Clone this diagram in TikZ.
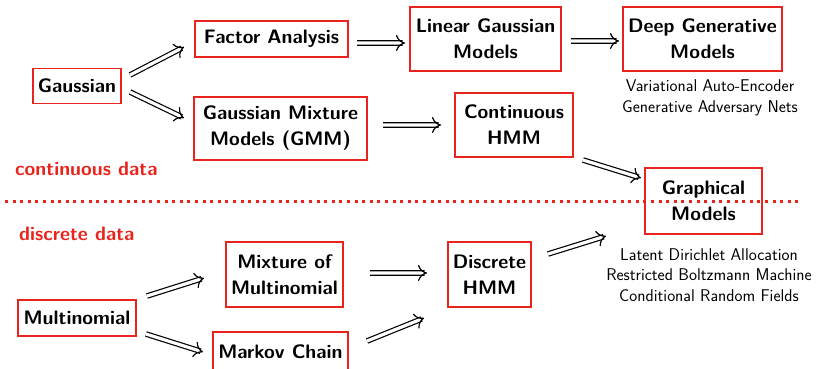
\documentclass[tikz,border=0pt]{standalone}
\usetikzlibrary{arrows.meta}
\definecolor{boxred}{RGB}{232,36,28}
\begin{document}
\begin{tikzpicture}[x=1pt,y=-1pt,
  box/.style={draw=boxred, line width=1.5pt, inner sep=0pt, align=center,
    font=\fontsize{19.5}{26}\selectfont\sffamily\bfseries},
  note/.style={align=center, inner sep=0pt, font=\fontsize{17}{20.5}\selectfont\sffamily},
  side/.style={text=boxred, inner sep=0pt, anchor=west, font=\fontsize{19.5}{22}\selectfont\sffamily\bfseries},
  dbl/.style={draw, double, double distance=3.2pt, line width=1.2pt, shorten >=2.5pt},
  head/.style={draw=white, line width=1pt,
    -{Computer Modern Rightarrow[color=black, length=9pt, width=16pt, line width=1.2pt]}}]
\useasboundingbox (0,0) rectangle (818,368);
\clip (0,0) rectangle (818,368);

% divider between continuous and discrete families
\draw[boxred, line width=3pt, dash pattern=on 3pt off 4.6pt] (5,201) -- (800,201);

% model boxes
\node[box, minimum width=153pt, minimum height=36pt] (fa) at (271.5,39) {Factor Analysis};
\node[box, minimum width=88pt, minimum height=35pt] (gauss) at (77,86) {Gaussian};
\node[box, minimum width=173pt, minimum height=63pt] (gmm) at (280.5,128.5) {Gaussian Mixture\\Models (GMM)};
\node[box, minimum width=151pt, minimum height=64pt] (lg) at (485.5,39) {Linear Gaussian\\Models};
\node[box, minimum width=159pt, minimum height=64pt] (dg) at (702.5,39) {Deep Generative\\Models};
\node[box, minimum width=118pt, minimum height=64pt] (chmm) at (514,125) {Continuous\\HMM};
\node[box, minimum width=117pt, minimum height=66pt] (gm) at (703.5,201) {Graphical\\Models};
\node[box, minimum width=117pt, minimum height=65pt] (mix) at (284.5,274.5) {Mixture of\\Multinomial};
\node[box, minimum width=118pt, minimum height=36pt] (mult) at (77,318) {Multinomial};
\node[box, minimum width=135pt, minimum height=40pt] (mc) at (280.5,352) {Markov Chain};
\node[box, minimum width=83pt, minimum height=65pt] (dhmm) at (489.5,274.5) {Discrete\\HMM};

% examples under the general families
\node[note] (dgnote) at (710,98) {Variational Auto-Encoder\\Generative Adversary Nets};
\node[note] (gmnote) at (709,275) {Latent Dirichlet Allocation\\Restricted Boltzmann Machine\\Conditional Random Fields};

% data-type labels
\node[side] (cont) at (15,169) {continuous data};
\node[side] (disc) at (19,234) {discrete data};

% connector end points (tiny slope keeps level strokes from being dropped)
\coordinate (a1s) at (130,75);  \coordinate (a1e) at (184,47);
\coordinate (a2s) at (130,92);  \coordinate (a2e) at (184,118);
\coordinate (a3s) at (357,43);  \coordinate (a3e) at (405,43.02);
\coordinate (a4s) at (571,41);  \coordinate (a4e) at (619,41.02);
\coordinate (a5s) at (383,125); \coordinate (a5e) at (441,125.02);
\coordinate (a6s) at (583,160); \coordinate (a6e) at (641,178);
\coordinate (b1s) at (147,296); \coordinate (b1e) at (204,278);
\coordinate (b2s) at (146,334); \coordinate (b2e) at (203,352);
\coordinate (b3s) at (370,273); \coordinate (b3e) at (427,273.02);
\coordinate (b4s) at (367,341); \coordinate (b4e) at (424,318);
\coordinate (b5s) at (548,254); \coordinate (b5e) at (606,236);

% double-stroke implication arrows: the two rails, then the open head
\foreach \s/\e in {a1s/a1e, a2s/a2e, a3s/a3e, a4s/a4e, a5s/a5e, a6s/a6e,
                   b1s/b1e, b2s/b2e, b3s/b3e, b4s/b4e, b5s/b5e} {
  \draw[dbl] (\s) -- (\e);
  \draw[head] (\s) -- (\e);
}
\end{tikzpicture}
\end{document}
